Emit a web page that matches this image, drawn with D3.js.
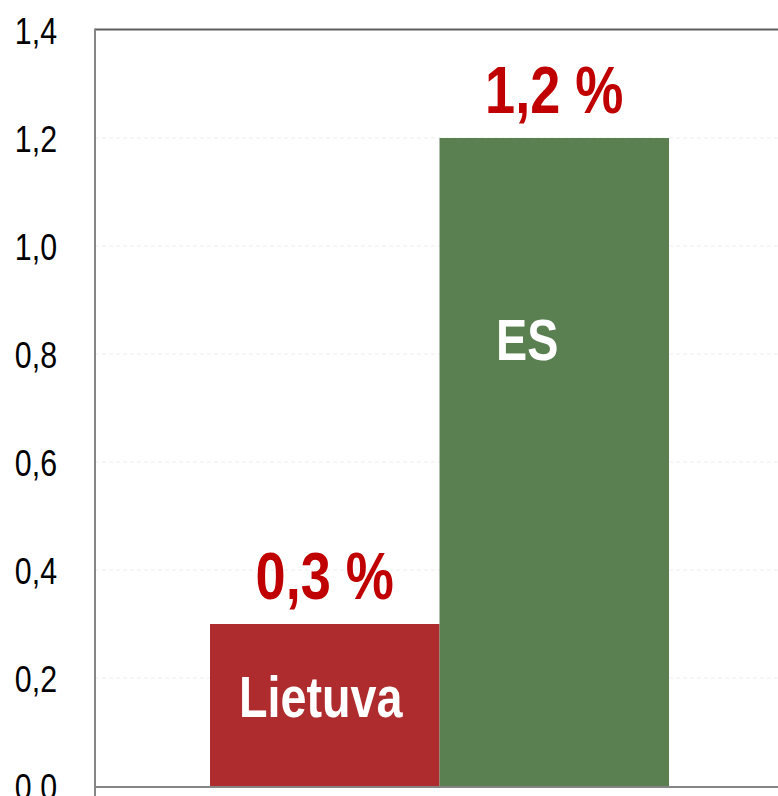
<!DOCTYPE html>
<html>
<head>
<meta charset="utf-8">
<script src="https://cdn.jsdelivr.net/npm/d3@7"></script>
<style>
  html, body { margin: 0; padding: 0; background: #fff; }
  svg { display: block; }
</style>
</head>
<body>
<script>
// ---- data ----
const categories = ["Lietuva", "ES"];
const values = [0.3, 1.2];
const valueLabels = ["0,3 %", "1,2 %"];
const barColors = ["#AE2C2D", "#5A7F51"];
const yTicks = [0, 0.2, 0.4, 0.6, 0.8, 1.0, 1.2, 1.4];
const yTickLabels = ["0,0", "0,2", "0,4", "0,6", "0,8", "1,0", "1,2", "1,4"];

// ---- layout ----
const W = 778, H = 796;
const plotLeft = 95, plotTop = 30, plotBottom = 786, plotRight = 790;
const font = "'Liberation Sans', Arial, sans-serif";
const narrow = 0.82; // emulate a narrow typeface

const svg = d3.select("body").append("svg").attr("width", W).attr("height", H);

const y = d3.scaleLinear().domain([0, 1.4]).range([plotBottom, plotTop]);
const x = d3.scaleBand().domain(categories).range([210, 669]).padding(0);

// gridlines
svg.append("g").selectAll("line").data(yTicks.slice(1, -1)).join("line")
  .attr("x1", plotLeft).attr("x2", plotRight)
  .attr("y1", d => y(d)).attr("y2", d => y(d))
  .attr("stroke", "#eeeeee").attr("stroke-width", 1).attr("stroke-dasharray", "4,3");

// top border
svg.append("line").attr("x1", plotLeft).attr("x2", plotRight)
  .attr("y1", y(1.4) - 0.5).attr("y2", y(1.4) - 0.5)
  .attr("stroke", "#5f5f5f").attr("stroke-width", 2);

// bars
svg.append("g").selectAll("rect").data(categories).join("rect")
  .attr("x", d => x(d)).attr("width", x.bandwidth())
  .attr("y", (d, i) => y(values[i]))
  .attr("height", (d, i) => y(0) - y(values[i]))
  .attr("fill", (d, i) => barColors[i]);

// x axis line
svg.append("line").attr("x1", plotLeft).attr("x2", plotRight)
  .attr("y1", y(0) + 1).attr("y2", y(0) + 1)
  .attr("stroke", "#858585").attr("stroke-width", 2);

// y axis
const pad = 38;
const yAxis = d3.axisLeft(y).tickValues(yTicks)
  .tickFormat((d, i) => yTickLabels[i]).tickSize(0).tickPadding(pad);
const gy = svg.append("g").attr("transform", `translate(${plotLeft},0)`).call(yAxis);
gy.select(".domain").remove();
gy.selectAll("text")
  .attr("font-family", font).attr("font-size", 37).attr("fill", "#000")
  .attr("x", -pad / narrow)
  .attr("transform", `scale(${narrow},1)`)
  .attr("dy", "0.36em");
svg.append("line").attr("x1", plotLeft).attr("x2", plotLeft)
  .attr("y1", plotTop - 1.5).attr("y2", H)
  .attr("stroke", "#858585").attr("stroke-width", 2);

// value labels
svg.append("g").selectAll("text").data(categories).join("text")
  .attr("transform", (d, i) =>
    `translate(${x(d) + x.bandwidth() / 2},${y(values[i]) - 25}) scale(${narrow},1)`)
  .attr("text-anchor", "middle")
  .attr("font-family", font).attr("font-weight", "bold").attr("font-size", 66)
  .attr("fill", "#C00000")
  .text((d, i) => valueLabels[i]);

// category labels inside bars
const nameOffsetX = [-4, -27];
const nameAt = [0.128, 0.789];
svg.append("g").selectAll("text").data(categories).join("text")
  .attr("transform", (d, i) =>
    `translate(${x(d) + x.bandwidth() / 2 + nameOffsetX[i]},${y(nameAt[i])}) scale(${narrow},1)`)
  .attr("text-anchor", "middle")
  .attr("font-family", font).attr("font-weight", "bold").attr("font-size", 57)
  .attr("fill", "#ffffff")
  .text(d => d);
</script>
</body>
</html>
